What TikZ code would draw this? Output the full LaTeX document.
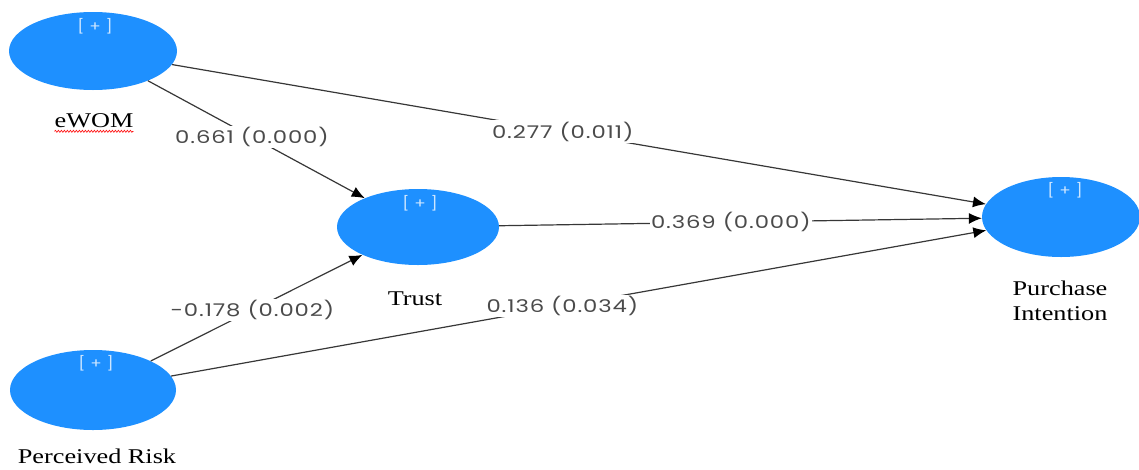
\documentclass[tikz,border=0pt]{standalone}
\usepackage{fontspec}
\setmainfont{Liberation Serif}
\newfontfamily\lblfont[FakeStretch=1.3,LetterSpace=5]{Poppins}
\newfontfamily\plusfont[FakeStretch=1.2,LetterSpace=35]{Poppins}
\newfontfamily\serfont[FakeStretch=1.25]{Liberation Serif}
\usetikzlibrary{arrows.meta,shapes.geometric,decorations.pathmorphing}
\definecolor{lvblue}{RGB}{30,144,255}
\definecolor{plusc}{RGB}{205,230,255}
\definecolor{edgec}{RGB}{55,55,55}
\definecolor{lblc}{RGB}{75,75,75}
\tikzset{
  lv/.style={ellipse, fill=lvblue, draw=none, inner sep=0pt},
  plustxt/.style={text=plusc, font=\plusfont\fontsize{14}{16}\selectfont, inner sep=0pt},
  lvlabel/.style={font=\serfont\fontsize{21}{25}\selectfont, inner sep=0pt, align=center},
  pathedge/.style={draw=edgec, line width=1.2pt, -{Latex[length=13pt,width=11pt,fill=black,color=black]}},
  coef/.style={fill=white, text=lblc, font=\lblfont\fontsize{17.5}{20}\selectfont, inner sep=1.5pt, pos=0.48}
}
\begin{document}
\begin{tikzpicture}[x=1pt,y=-1pt]
\useasboundingbox (0,0) rectangle (1139,469);
\node[lv, minimum width=168pt, minimum height=78pt] (ewom) at (93,51) {};
\node[lv, minimum width=162pt, minimum height=76pt] (trust) at (418,227) {};
\node[lv, minimum width=158pt, minimum height=80pt] (pi) at (1061,217) {};
\node[lv, minimum width=166pt, minimum height=80pt] (pr) at (93,390) {};

\node[plustxt] (p1) at (95,26) {[+]};
\node[plustxt] (p2) at (420,203) {[+]};
\node[plustxt] (p3) at (1065,190) {[+]};
\node[plustxt] (p4) at (96,363) {[+]};

\node[lvlabel] (ewoml) at (94,121) {eWOM};
\node[lvlabel] (trustl) at (415,299) {Trust};
\node[lvlabel] (pil) at (1060,301) {Purchase\\Intention};
\node[lvlabel] (prl) at (97,456) {Perceived Risk};
\draw[red, line width=0.6pt, decorate, decoration={snake, amplitude=1pt, segment length=3pt}]
  ([yshift=-3pt]ewoml.south west) -- ([yshift=-3pt]ewoml.south east);

\draw[pathedge] (ewom) -- node[coef] (c1) {0.661 (0.000)} (trust);
\draw[pathedge] (ewom) -- node[coef] (c2) {0.277 (0.011)} (pi);
\draw[pathedge] (trust) -- node[coef] (c3) {0.369 (0.000)} (pi);
\draw[pathedge] (pr) -- node[coef] (c4) {-0.178 (0.002)} (trust);
\draw[pathedge] (pr) -- node[coef] (c5) {0.136 (0.034)} (pi);
\end{tikzpicture}
\end{document}
